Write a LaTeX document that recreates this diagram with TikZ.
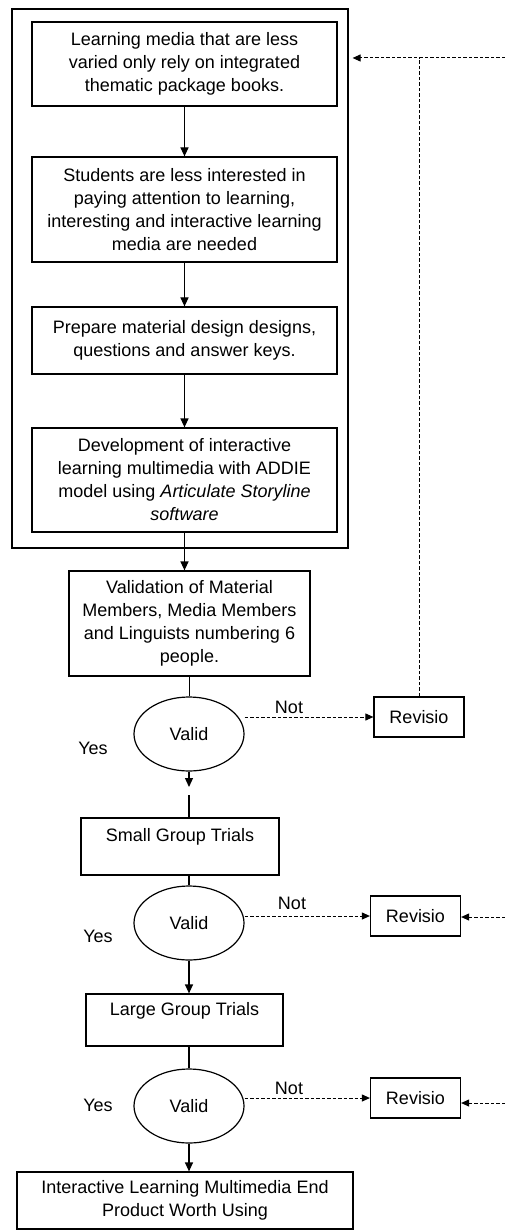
\documentclass[tikz,border=0pt]{standalone}
\usepackage{fontspec}
\setmainfont{Liberation Sans}
\usetikzlibrary{arrows.meta,shapes.geometric,positioning}

\tikzset{
  txt/.style={font=\fontsize{18}{23}\selectfont},
  box/.style={draw,txt,align=center,inner sep=0pt,line width=1.2pt},
  decision/.style={draw,ellipse,txt,inner sep=0pt,minimum width=110pt,minimum height=74pt,line width=1.2pt},
  revbox/.style={draw,txt,inner sep=0pt,minimum width=90pt,minimum height=40pt,line width=1.2pt},
  link/.style={line width=1.2pt},
  flow/.style={line width=1.2pt,-{Triangle[length=9pt,width=8pt]}},
  back/.style={line width=1pt,dash pattern=on 3.5pt off 2pt},
  backarrow/.style={back,-{Triangle[length=8pt,width=7pt]}},
}

\begin{document}
\begin{tikzpicture}[x=1pt,y=1pt]
  \useasboundingbox (0,0) rectangle (505,-1230);
  % outer frame round the first four steps
  \node[box,minimum width=336pt,minimum height=539pt] (outer) at (180,-278.5) {};
  \node[box,minimum width=305pt,minimum height=84pt] (b1) at (184.5,-64)
    {Learning media that are less\\varied only rely on integrated\\thematic package books.};
  \node[box,minimum width=305pt,minimum height=105pt] (b2) at (184.5,-209.5)
    {Students are less interested in\\paying attention to learning,\\interesting and interactive learning\\media are needed};
  \node[box,minimum width=305pt,minimum height=67pt] (b3) at (184.5,-340.5)
    {Prepare material design designs,\\questions and answer keys.};
  \node[box,minimum width=305pt,minimum height=104pt] (b4) at (184.5,-480)
    {Development of interactive\\learning multimedia with ADDIE\\model using \textit{Articulate Storyline}\\\textit{software}};
  % validation and trials
  \node[box,minimum width=241pt,minimum height=105pt] (b5) at (189.5,-623.5)
    {Validation of Material\\Members, Media Members\\and Linguists numbering 6\\people.};
  \node[decision] (v1) at (189,-734) {Valid};
  \node[revbox] (r1) at (419,-717) {Revisio};
  \node[box,minimum width=198pt,minimum height=57pt] (b6) at (180,-846.5) {Small Group Trials\\~};
  \node[decision] (v2) at (189,-923) {Valid};
  \node[revbox] (r2) at (415.5,-916) {Revisio};
  \node[box,minimum width=197pt,minimum height=52pt] (b7) at (184.5,-1020) {Large Group Trials\\~};
  \node[decision] (v3) at (189,-1106) {Valid};
  \node[revbox] (r3) at (415.5,-1098) {Revisio};
  \node[box,minimum width=336pt,minimum height=57pt] (b8) at (185,-1200.5)
    {Interactive Learning Multimedia End\\Product Worth Using};
  % yes / not labels
  \node[txt] (yes1) at (93,-748) {Yes};
  \node[txt] (not1) at (289,-707) {Not};
  \node[txt] (yes2) at (98,-936) {Yes};
  \node[txt] (not2) at (292,-903) {Not};
  \node[txt] (yes3) at (98,-1105) {Yes};
  \node[txt] (not3) at (289,-1088) {Not};
  % free ends
  \coordinate (gap1a) at (189,-787);
  \coordinate (gap1b) at (189,-795);
  \coordinate (top) at (505,-58);
  \coordinate (in2) at (505,-917);
  \coordinate (in3) at (505,-1103);
  % main flow
  \draw[flow] (b1.south) -- (b1.south |- b2.north);
  \draw[flow] (b2.south) -- (b2.south |- b3.north);
  \draw[flow] (b3.south) -- (b3.south |- b4.north);
  \draw[flow] (b4.south) -- (b4.south |- b5.north);
  \draw[link] (b5.south) -- (b5.south |- v1.north);
  \draw[flow] (v1.south) -- (gap1a);
  \draw[link] (gap1b) -- (gap1b |- b6.north);
  \draw[link] (v2.north |- b6.south) -- (v2.north);
  \draw[flow] (v2.south) -- (v2.south |- b7.north);
  \draw[link] (v3.north |- b7.south) -- (v3.north);
  \draw[flow] (v3.south) -- (v3.south |- b8.north);
  % revision loops
  \draw[backarrow] (v1.east |- r1.west) -- (r1.west);
  \draw[back] (r1.north) -- (r1.north |- top);
  \draw[backarrow,shorten >=4pt] (top) -- (outer.east |- top);
  \draw[backarrow] (v2.east |- r2.west) -- (r2.west);
  \draw[backarrow] (in2) -- (r2.east |- in2);
  \draw[backarrow] (v3.east |- r3.west) -- (r3.west);
  \draw[backarrow] (in3) -- (r3.east |- in3);
\end{tikzpicture}
\end{document}
